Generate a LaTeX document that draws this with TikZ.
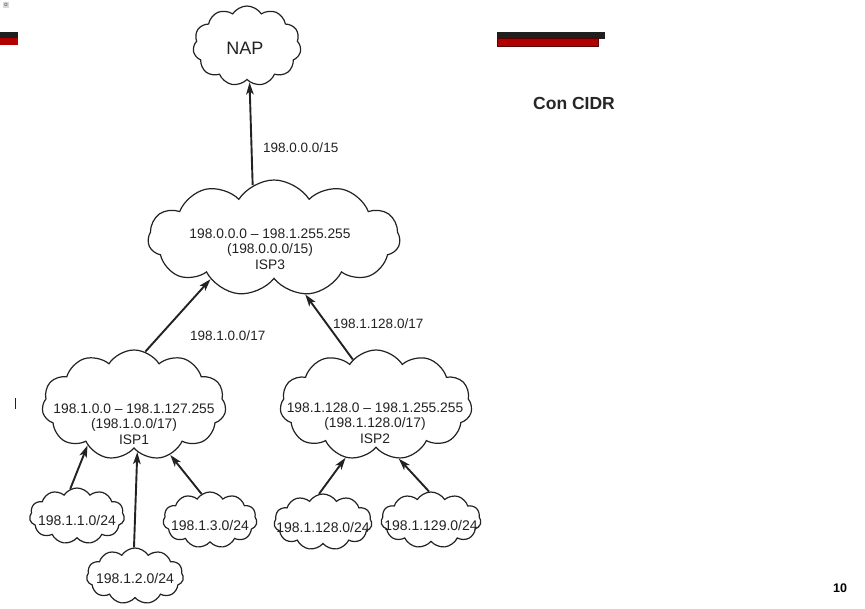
\documentclass[tikz,border=0pt]{standalone}
\usepackage{fontspec}
\setmainfont{Liberation Sans}
\usetikzlibrary{shapes.symbols,arrows.meta}
\definecolor{ink}{HTML}{222222}
\definecolor{barred}{HTML}{B00000}
\definecolor{barredline}{HTML}{5A0000}
\begin{document}
\begin{tikzpicture}[x=1pt,y=-1pt,
  cloudbox/.style={cloud, cloud puffs=11, cloud puff arc=115, cloud ignores aspect,
    draw=ink, line width=1.2pt, inner sep=0pt},
  cloudtext/.style={text=ink, align=center, inner sep=0pt,
    font=\fontsize{13.8}{15.5}\selectfont},
  leaftext/.style={cloudtext, font=\fontsize{14}{16}\selectfont},
  route/.style={draw=ink, line width=1.9pt, -{Stealth[length=12pt,width=7.5pt,inset=3pt]}},
  routelabel/.style={text=ink, anchor=west, inner sep=0pt,
    font=\fontsize{13.5}{15}\selectfont}]
\useasboundingbox (0,0) rectangle (865,608);
\fill[white] (0,0) rectangle (865,608);

% slide header bars
\fill[black!88] (0,32) rectangle (18,38);
\fill[barred] (0,38) rectangle (18,45);
\fill[black!88] (497,32) rectangle (605,39);
\filldraw[fill=barred, draw=barredline, line width=0.6pt] (497,38) rectangle (598,46);

% small icon in the corner
\node[fill=black!15, inner sep=1pt, font=\fontsize{6}{6}\selectfont, text=black!70] (icon) at (6,5) {o};

% slide title and page number
\node[anchor=west, inner sep=0pt, font=\fontsize{17.5}{20}\bfseries\selectfont, text=black!85] (title) at (533,103) {Con CIDR};
\node[inner sep=0pt, font=\fontsize{12.5}{14}\bfseries\selectfont] (page) at (840,588) {10};

% clouds
\node[cloudbox, minimum width=108pt, minimum height=80pt] (nap) at (247,46) {};
\node[cloudbox, minimum width=252pt, minimum height=116pt] (isp3) at (274,238) {};
\node[cloudbox, minimum width=184pt, minimum height=110pt] (isp1) at (134,405) {};
\node[cloudbox, minimum width=192pt, minimum height=110pt] (isp2) at (376,405) {};
\node[cloudbox, minimum width=95pt, minimum height=56pt] (l1) at (77,516) {};
\node[cloudbox, minimum width=97pt, minimum height=56pt] (l2) at (135,576) {};
\node[cloudbox, minimum width=94pt, minimum height=56pt] (l3) at (210,520) {};
\node[cloudbox, minimum width=98pt, minimum height=56pt] (l4) at (323,522) {};
\node[cloudbox, minimum width=100pt, minimum height=56pt] (l5) at (431,520) {};

% cloud texts
\node[cloudtext, font=\fontsize{18}{20}\selectfont] (tnap) at (245,48) {NAP};
\node[cloudtext] (tisp3) at (270,249) {198.0.0.0 -- 198.1.255.255\\(198.0.0.0/15)\\ISP3};
\node[cloudtext] (tisp1) at (134,424) {198.1.0.0 -- 198.1.127.255\\(198.1.0.0/17)\\ISP1};
\node[cloudtext] (tisp2) at (375,423) {198.1.128.0 -- 198.1.255.255\\(198.1.128.0/17)\\ISP2};
\node[leaftext] (tl1) at (77,520) {198.1.1.0/24};
\node[leaftext] (tl2) at (135,578) {198.1.2.0/24};
\node[leaftext] (tl3) at (210,525) {198.1.3.0/24};
\node[leaftext] (tl4) at (323,527) {198.1.128.0/24};
\node[leaftext] (tl5) at (431,525) {198.1.129.0/24};

% routes
\draw[route] (isp3.112) -- (nap.-86);
\draw[route] (isp1.78) -- (isp3.-147);
\draw[route] (isp2.117) -- (isp3.-61);
\draw[route] (l1.104) -- (isp1.-139);
\draw[route] (l2.92) -- (isp1.-86);
\draw[route] (l3.108) -- (isp1.-54);
\draw[route] (l4.98) -- (isp2.-120);
\draw[route] (l5.94) -- (isp2.-67);

% route labels
\node[routelabel] (r3) at (263,148) {198.0.0.0/15};
\node[routelabel] (r1) at (190,336) {198.1.0.0/17};
\node[routelabel] (r2) at (333,324) {198.1.128.0/17};

% stray mark on the scan
\draw[ink, line width=0.8pt] (15,398) -- (15,409);
\end{tikzpicture}
\end{document}
